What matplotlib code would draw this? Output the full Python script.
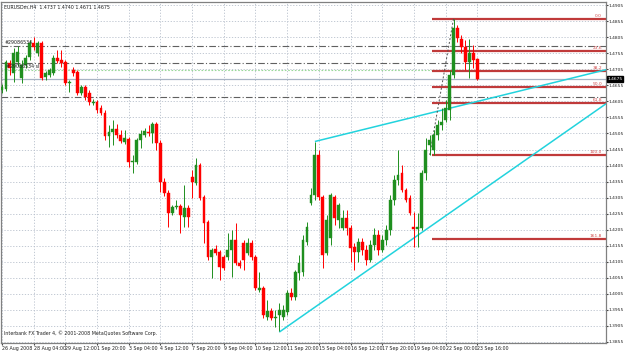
import matplotlib
matplotlib.use("Agg")
import matplotlib.pyplot as plt
import numpy as np

plt.rcParams['font.family'] = ['DejaVu Sans Condensed', 'DejaVu Sans']

# ---------------- data (EURUSDm, H4) ----------------
opens = [1.4642,1.4645,1.4726,1.4695,1.4729,1.4679,1.4720,1.4745,1.4788,1.4757,
         1.4788,1.4682,1.4688,1.4695,1.4742,1.4735,1.4729,1.4663,1.4704,1.4698,
         1.4632,1.4651,1.4632,1.4601,1.4604,1.4585,1.4570,1.4498,1.4510,1.4520,
         1.4501,1.4479,1.4488,1.4417,1.4417,1.4485,1.4501,1.4510,1.4507,1.4535,
         1.4476,1.4354,1.4320,1.4257,1.4276,1.4279,1.4245,1.4273,1.4370,1.4351,
         1.4407,1.4307,1.4229,1.4120,1.4145,1.4135,1.4120,1.4120,1.4142,1.4173,
         1.4101,1.4163,1.4132,1.4163,1.4120,1.4017,1.4023,1.3932,1.3951,1.3929,
         1.3938,1.3932,1.3948,1.4007,1.3995,1.4070,1.4073,1.4167,1.4288,1.4313,
         1.4438,1.4307,1.4132,1.4179,1.4307,1.4235,1.4210,1.4242,1.4210,1.4151,
         1.4135,1.4167,1.4142,1.4110,1.4157,1.4188,1.4142,1.4173,1.4204,1.4298,
         1.4360,1.4382,1.4329,1.4304,1.4213,1.4207,1.4210,1.4382,1.4470,1.4454,
         1.4501,1.4532,1.4548,1.4579,1.4688,1.4835,1.4801,1.4776,1.4729,1.4757,
         1.4737]
highs = [1.4660,1.4735,1.4735,1.4773,1.4779,1.4735,1.4751,1.4798,1.4807,1.4795,
         1.4795,1.4701,1.4710,1.4751,1.4767,1.4767,1.4735,1.4673,1.4713,1.4704,
         1.4657,1.4657,1.4642,1.4613,1.4610,1.4595,1.4579,1.4532,1.4548,1.4535,
         1.4517,1.4517,1.4495,1.4438,1.4492,1.4517,1.4523,1.4532,1.4542,1.4542,
         1.4485,1.4367,1.4329,1.4282,1.4298,1.4285,1.4345,1.4282,1.4392,1.4429,
         1.4413,1.4313,1.4235,1.4148,1.4157,1.4142,1.4126,1.4195,1.4204,1.4226,
         1.4110,1.4173,1.4179,1.4173,1.4126,1.4073,1.4029,1.3985,1.3960,1.3954,
         1.3976,1.3970,1.4017,1.4023,1.4079,1.4126,1.4188,1.4229,1.4335,1.4479,
         1.4454,1.4313,1.4251,1.4320,1.4313,1.4288,1.4267,1.4267,1.4220,1.4163,
         1.4179,1.4179,1.4157,1.4173,1.4210,1.4204,1.4188,1.4220,1.4313,1.4376,
         1.4454,1.4407,1.4335,1.4313,1.4260,1.4257,1.4392,1.4492,1.4501,1.4517,
         1.4548,1.4585,1.4610,1.4704,1.4863,1.4845,1.4813,1.4798,1.4801,1.4782,
         1.4740]
lows = [1.4632,1.4638,1.4688,1.4667,1.4717,1.4663,1.4710,1.4735,1.4767,1.4748,
        1.4673,1.4673,1.4682,1.4688,1.4726,1.4713,1.4657,1.4635,1.4685,1.4626,
        1.4626,1.4610,1.4595,1.4595,1.4570,1.4563,1.4485,1.4463,1.4470,1.4492,
        1.4476,1.4473,1.4401,1.4382,1.4410,1.4460,1.4495,1.4498,1.4476,1.4454,
        1.4323,1.4310,1.4213,1.4251,1.4270,1.4195,1.4213,1.4213,1.4304,1.4345,
        1.4298,1.4163,1.4110,1.4054,1.4126,1.4048,1.4079,1.4110,1.4057,1.4095,
        1.4085,1.4079,1.4126,1.4110,1.4017,1.4010,1.3929,1.3923,1.3923,1.3901,
        1.3888,1.3923,1.3938,1.3985,1.3985,1.4048,1.4060,1.4157,1.4282,1.4298,
        1.4298,1.4085,1.4126,1.4157,1.4220,1.4210,1.4204,1.4188,1.4104,1.4079,
        1.4104,1.4126,1.4095,1.4104,1.4142,1.4126,1.4135,1.4157,1.4188,1.4282,
        1.4345,1.4323,1.4292,1.4251,1.4151,1.4151,1.4204,1.4360,1.4438,1.4438,
        1.4485,1.4517,1.4542,1.4548,1.4679,1.4792,1.4757,1.4704,1.4679,1.4710,
        1.4671]
closes = [1.4651,1.4729,1.4710,1.4757,1.4760,1.4720,1.4742,1.4788,1.4776,1.4788,
          1.4679,1.4695,1.4704,1.4742,1.4732,1.4726,1.4663,1.4667,1.4695,1.4632,
          1.4651,1.4620,1.4604,1.4604,1.4579,1.4570,1.4498,1.4510,1.4520,1.4501,
          1.4482,1.4492,1.4417,1.4420,1.4485,1.4504,1.4513,1.4507,1.4535,1.4476,
          1.4354,1.4320,1.4257,1.4276,1.4279,1.4251,1.4273,1.4245,1.4354,1.4407,
          1.4304,1.4226,1.4120,1.4142,1.4132,1.4088,1.4085,1.4142,1.4173,1.4101,
          1.4092,1.4110,1.4163,1.4120,1.4023,1.4023,1.3938,1.3951,1.3929,1.3932,
          1.3954,1.3954,1.4007,1.3995,1.4073,1.4101,1.4173,1.4213,1.4313,1.4438,
          1.4307,1.4126,1.4235,1.4313,1.4242,1.4282,1.4242,1.4210,1.4148,1.4135,
          1.4167,1.4142,1.4110,1.4157,1.4188,1.4142,1.4173,1.4204,1.4298,1.4360,
          1.4376,1.4329,1.4298,1.4257,1.4207,1.4213,1.4382,1.4454,1.4485,1.4501,
          1.4532,1.4542,1.4585,1.4688,1.4835,1.4804,1.4776,1.4729,1.4757,1.4735,
          1.4675]

xtick_labels = ["26 Aug 2008", "28 Aug 04:00", "29 Aug 12:00", "1 Sep 20:00",
                "3 Sep 04:00", "4 Sep 12:00", "7 Sep 20:00", "9 Sep 04:00",
                "10 Sep 12:00", "11 Sep 20:00", "15 Sep 04:00", "16 Sep 12:00",
                "17 Sep 20:00", "19 Sep 04:00", "22 Sep 00:00", "23 Sep 16:00"]
xtick_bars = [0, 8, 16, 24, 32, 40, 48, 56, 64, 72, 80, 88, 96, 104, 112, 120]

ytick_values = [1.4905, 1.4855, 1.4805, 1.4755, 1.4705, 1.4655, 1.4605, 1.4555,
                1.4505, 1.4455, 1.4405, 1.4355, 1.4305, 1.4255, 1.4205, 1.4155,
                1.4105, 1.4055, 1.4005, 1.3955, 1.3905, 1.3855]

fib_high = 1.4863
fib_low = 1.4438
fib_high_bar = 114
fib_low_bar = 108
fib_levels = [0.0, 23.6, 38.2, 50.0, 61.8, 100.0, 161.8]

trend_upper = ([79, 120], [1.4480, 1.4605])
trend_lower = ([70, 120], [1.3885, 1.4317])

order_lines = [1.4779, 1.4726, 1.4618]
order_label = "#29086534"
sl_line = 1.4704
bid_price = 1.4675
title = "EURUSDm,H4  1.4737 1.4740 1.4671 1.4675"
footer = "Interbank FX Trader 4, \u00a9 2001-2008 MetaQuotes Software Corp."

# ---------------- drawing ----------------
W, H = 625, 352
FS = 3.4
FSY = 3.2
fig = plt.figure(figsize=(W / 100, H / 100), dpi=100)
fig.patch.set_facecolor("white")
ax = fig.add_axes([1 / W, 9 / H, 605 / W, 341.5 / H])
ax.set_facecolor("white")

xmin, xmax = -0.25, 152.5
ymin, ymax = 1.3851, 1.4917
ax.set_xlim(xmin, xmax)
ax.set_ylim(ymin, ymax)

o = np.array(opens); h = np.array(highs); l = np.array(lows); c = np.array(closes)
idx = np.arange(len(o))
up = c >= o
bull = "#1f8f1f"
bear = "#ff0000"
colors = np.where(up, bull, bear)

# order / price lines
for p in order_lines:
    ax.axhline(p, color="#606060", lw=0.8, ls=(0, (6, 2, 1, 2)), zorder=1)
ax.axhline(sl_line, color="#9ad89a", lw=0.8, ls=(0, (1.5, 1.5)), zorder=1)
ax.axhline(bid_price, color="#a8b4c4", lw=0.9, zorder=1)

# trend lines (rays to the right edge)
for xs, ys in (trend_upper, trend_lower):
    slope = (ys[1] - ys[0]) / (xs[1] - xs[0])
    ax.plot([xs[0], xmax], [ys[0], ys[0] + slope * (xmax - xs[0])],
            color="#22d3dd", lw=1.1, zorder=3, solid_capstyle="butt")

# fibonacci
ax.plot([fib_low_bar, fib_high_bar], [fib_low, fib_high], color="#505050",
        lw=0.7, ls=(0, (2, 2)), zorder=3)
for lv in fib_levels:
    p = fib_high - (fib_high - fib_low) * lv / 100.0
    ax.plot([fib_low_bar + 0.6, xmax], [p, p], color="#c03a3a", lw=1.6, zorder=2,
            solid_capstyle="butt")
    ax.text(xmax - 1.0, p + 0.0003, f"{lv:.1f}", ha="right", va="bottom",
            fontsize=3.2, color="#d04a4a", zorder=4)

# candles
ax.vlines(idx, l, h, colors=colors, lw=0.7, zorder=4)
body_h = np.maximum(np.abs(c - o), 0.00018)
ax.bar(idx, body_h, bottom=np.minimum(o, c), width=0.72, color=colors,
       edgecolor=colors, linewidth=0.3, zorder=5)

# order labels
ax.text(0.6, order_lines[0] + 0.0002, order_label, fontsize=FS, color="#202020",
        va="bottom", ha="left", zorder=6)
ax.text(1.0, sl_line + 0.0002, order_label + " sl", fontsize=FS, color="#202020",
        va="bottom", ha="left", zorder=6)

# grid & axes
ax.set_yticks(ytick_values)
ax.set_yticklabels([f"{v:.4f}" for v in ytick_values])
ax.set_xticks(xtick_bars)
ax.set_xticklabels(xtick_labels)
ax.yaxis.tick_right()
ax.tick_params(axis="y", labelsize=FSY, length=1.5, pad=0.6, colors="#404040",
               labelcolor="#202020")
ax.tick_params(axis="x", labelsize=FS, length=1.5, pad=0.8, colors="#404040",
               labelcolor="#202020")
for lab in ax.get_xticklabels():
    lab.set_horizontalalignment("left")
ax.grid(True, color="#b8c0cc", lw=0.6, ls=(0, (1.5, 2)), zorder=0)
ax.set_axisbelow(True)
for s in ax.spines.values():
    s.set_color("#808080")
    s.set_linewidth(0.9)

# bid price tag
ax.annotate("1.4675", xy=(1.0, bid_price), xycoords=("axes fraction", "data"),
            xytext=(1.0, 0), textcoords="offset points", fontsize=FSY,
            color="white", va="center", ha="left", annotation_clip=False,
            bbox=dict(boxstyle="square,pad=0.15", fc="black", ec="black"))

fig.text(4 / W, 1 - 7 / H, title, fontsize=FS, color="#202020", va="center", ha="left")
fig.text(4 / W, 1 - 333 / H, footer, fontsize=FS, color="#202020", va="center", ha="left")

fig.savefig("out.png", dpi=100, facecolor="white")
